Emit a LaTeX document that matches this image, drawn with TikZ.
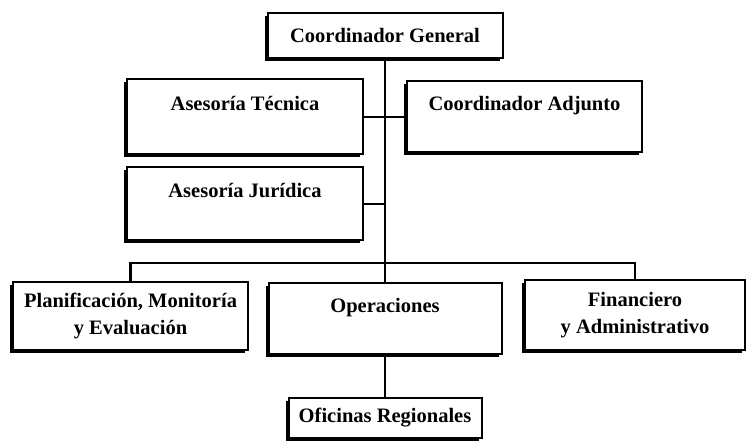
\documentclass[tikz,border=0pt]{standalone}
\usepackage{fontspec}
\setmainfont{Liberation Serif}
\usepackage{tikz}
\usetikzlibrary{shadows}

\begin{document}
\begin{tikzpicture}[
    x=1pt, y=-1pt,
    unit/.style={rectangle, draw, line width=2pt, fill=white, align=center,
        font=\bfseries\fontsize{20.5}{27}\selectfont, inner sep=2pt,
        drop shadow={shadow xshift=-3pt, shadow yshift=-3pt, fill=black, opacity=1}},
    link/.style={line width=2.2pt}
]
    \useasboundingbox (0,0) rectangle (747,443);

    \node[unit, minimum width=235, minimum height=45] (general) at (385,35.5) {Coordinador General};
    \node[unit, minimum width=236, minimum height=75] (tecnica) at (245,117) {Asesoría Técnica\\~};
    \node[unit, minimum width=235, minimum height=71] (adjunto) at (524.5,117) {Coordinador Adjunto\\~};
    \node[unit, minimum width=236, minimum height=73] (juridica) at (245,204) {Asesoría Jurídica\\~};
    \node[unit, minimum width=235, minimum height=68] (planif) at (130.5,316) {Planificación, Monitoría\\y Evaluación};
    \node[unit, minimum width=233, minimum height=71] (oper) at (385,318.5) {Operaciones\\~};
    \node[unit, minimum width=220, minimum height=70] (finan) at (635,315) {Financiero\\y Administrativo};
    \node[unit, minimum width=193, minimum height=40] (oficinas) at (385,418) {Oficinas Regionales};

    \coordinate (bus) at (385,263);

    \draw[link] (general) -- (oper);
    \draw[link] (tecnica) -- (adjunto);
    \draw[link] (juridica.east) -- (juridica.east -| general.south);
    \draw[link] (planif.north) |- (bus) -| (finan.north);
    \draw[link] (oper) -- (oficinas);
\end{tikzpicture}
\end{document}
